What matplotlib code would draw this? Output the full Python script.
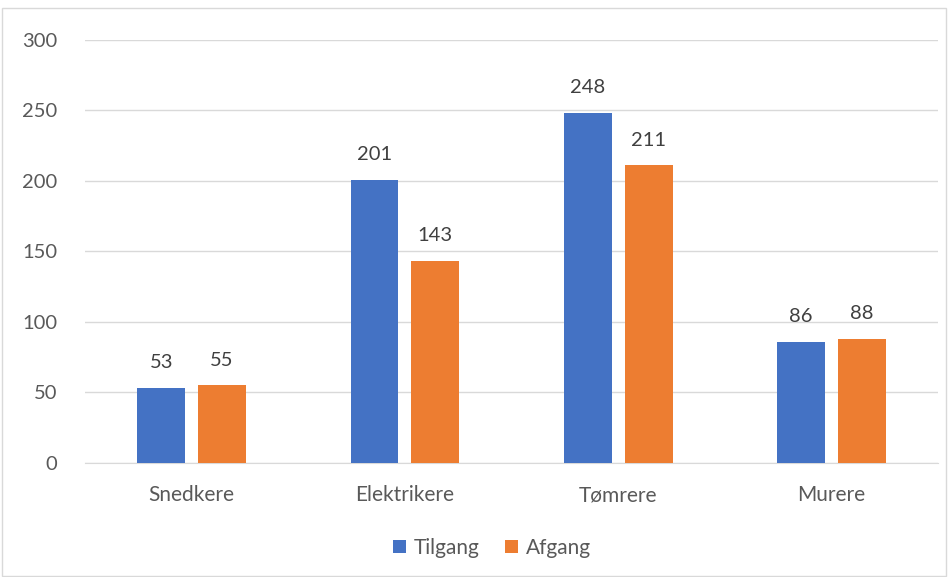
import matplotlib.pyplot as plt
import numpy as np

plt.rcParams['font.family'] = ['Lato', 'DejaVu Sans']

# data
categories = ['Snedkere', 'Elektrikere', 'Tømrere', 'Murere']
tilgang = [53, 201, 248, 86]
afgang = [55, 143, 211, 88]

fig = plt.figure(figsize=(9.52, 5.77), dpi=100)
ax = fig.add_axes([0.0893, 0.1976, 0.896, 0.7331])

x = np.arange(len(categories))
w = 0.224
off = 0.143
b1 = ax.bar(x - off, tilgang, w, color='#4472C4', label='Tilgang', zorder=3)
b2 = ax.bar(x + off, afgang, w, color='#ED7D31', label='Afgang', zorder=3)

# value labels
for bars, vals in ((b1, tilgang), (b2, afgang)):
    for b, v in zip(bars, vals):
        ax.text(b.get_x() + b.get_width() / 2, v + 12, str(v), ha='center', va='bottom',
                fontsize=14.5, color='#404040')

ax.set_xlim(-0.5, len(categories) - 0.5)
ax.set_ylim(0, 300)
ax.set_yticks(range(0, 301, 50))
ax.set_xticks(x)
ax.set_xticklabels(categories, fontsize=15)
ax.grid(axis='y', color='#d9d9d9', linewidth=1, zorder=0)
for s in ('top', 'right', 'left'):
    ax.spines[s].set_visible(False)
ax.spines['bottom'].set_color('#d9d9d9')
ax.tick_params(axis='both', length=0, colors='#595959')
ax.tick_params(axis='y', pad=20, labelsize=14.5)
ax.tick_params(axis='x', pad=16)

fig.legend(handles=[b1, b2], loc='center', bbox_to_anchor=(0.517, 0.05), ncol=2, frameon=False,
           fontsize=15, labelcolor='#595959', handlelength=0.6, handleheight=0.6,
           handletextpad=0.4, columnspacing=1.2)

# thin frame around figure
fig.patches.append(plt.Rectangle((0.002, 0.002), 0.992, 0.985, transform=fig.transFigure,
                                 fill=False, edgecolor='#d9d9d9', linewidth=1))

fig.savefig('out.png', dpi=100)
